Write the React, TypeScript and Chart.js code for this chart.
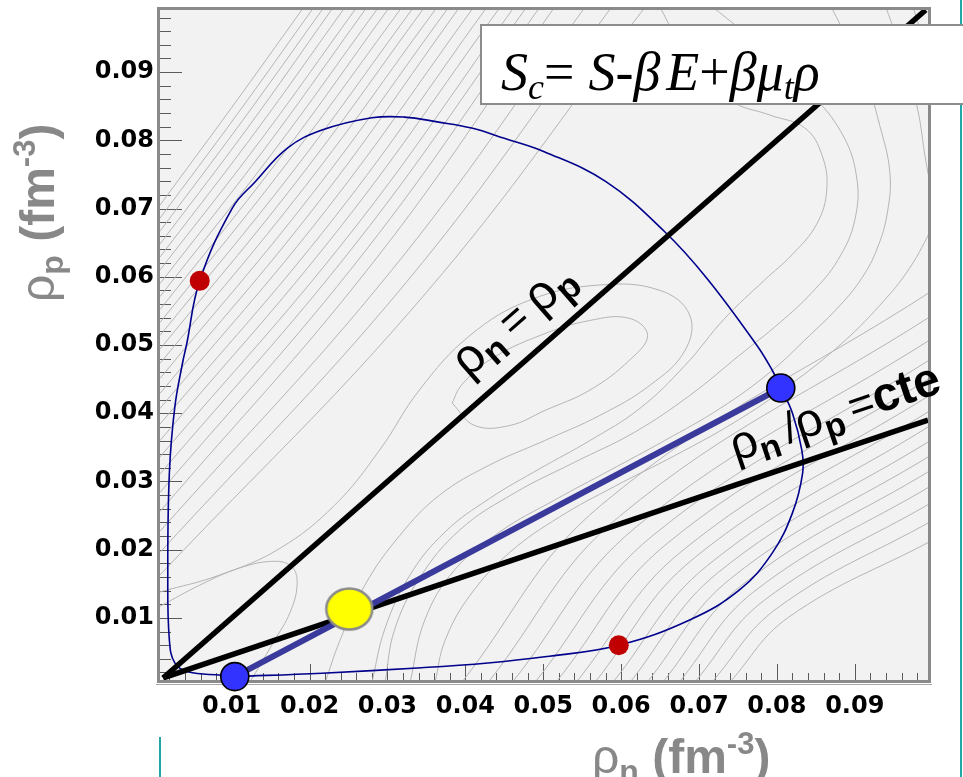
import { useEffect, useRef } from "react";
import { Chart, registerables } from "chart.js";

Chart.register(...registerables);

const W = 963;
const H = 777;

// Axis extents (fm^-3)
const RHO_N_RANGE = [0.0008, 0.0994];
const RHO_P_RANGE = [0.0009, 0.0991];
const MAJOR_TICKS = [0.01, 0.02, 0.03, 0.04, 0.05, 0.06, 0.07, 0.08, 0.09];
const MINOR_STEP = 0.002;

// Spinodal boundary, traced clockwise from the dilute coexistence point
const SPINODAL_RHO_N = [
  0.0104, 0.0216, 0.0344, 0.0429, 0.0502, 0.0597, 0.0688, 0.0752, 0.0794, 0.082,
  0.0833, 0.0832, 0.082, 0.0805, 0.0794, 0.0774, 0.071, 0.0656, 0.0581, 0.0502,
  0.045, 0.0408, 0.0364, 0.0322, 0.028, 0.0216, 0.0172, 0.013, 0.0101, 0.0059,
  0.0042, 0.0037, 0.0027, 0.002, 0.0018, 0.002, 0.0027, 0.0044, 0.0087, 0.0104,
];
const SPINODAL_RHO_P = [
  0.0014, 0.0019, 0.0027, 0.0034, 0.0043, 0.006, 0.0097, 0.0141, 0.0195, 0.0254,
  0.0312, 0.0346, 0.04, 0.0437, 0.0463, 0.05, 0.0598, 0.0666, 0.0739, 0.0783,
  0.0803, 0.0818, 0.0827, 0.0834, 0.0833, 0.0815, 0.0789, 0.0739, 0.0701, 0.0594,
  0.05, 0.0474, 0.0409, 0.0312, 0.0166, 0.0068, 0.0034, 0.0021, 0.0016, 0.0014,
];

// Coexisting phases, inflection points and the mixture point
const COEXIST_RHO_N = [0.0104, 0.0805];
const COEXIST_RHO_P = [0.0014, 0.0437];
const INFLECTION_RHO_N = [0.0059, 0.0597];
const INFLECTION_RHO_P = [0.0594, 0.006];
const MIXTURE_RHO_N = [0.0251];
const MIXTURE_RHO_P = [0.0113];

// Straight guides: rho_n = rho_p and rho_n / rho_p = cte
const SYMMETRIC_RHO = [0.0012, 0.0991];
const RATIO_RHO_N = [0.0012, 0.0994];
const RATIO_RHO_P = [0.0012, 0.039];

type Poly = [number, number][];

// Iso-S_c contours toward the neutron-poor corner (upper left)
const CONTOURS_UPPER_LEFT: Poly[] = [
  [[0.0008, 0.0705], [0.01, 0.0848], [0.019, 0.0991]],
  [[0.0008, 0.0686], [0.0107, 0.0838], [0.0203, 0.0991]],
  [[0.0008, 0.0667], [0.0114, 0.0829], [0.0216, 0.0991]],
  [[0.0008, 0.0648], [0.0121, 0.0819], [0.0228, 0.0991]],
  [[0.0008, 0.0629], [0.0129, 0.081], [0.0243, 0.0991]],
  [[0.0008, 0.061], [0.0137, 0.08], [0.0258, 0.0991]],
  [[0.0008, 0.059], [0.0144, 0.079], [0.0271, 0.0991]],
  [[0.0008, 0.0571], [0.0152, 0.0781], [0.0286, 0.0991]],
  [[0.0008, 0.0552], [0.016, 0.0771], [0.03, 0.0991]],
  [[0.0008, 0.0533], [0.0168, 0.0762], [0.0316, 0.0991]],
  [[0.0008, 0.0514], [0.0177, 0.0752], [0.0331, 0.0991]],
  [[0.0008, 0.0494], [0.0185, 0.0742], [0.0345, 0.0991]],
  [[0.0008, 0.0473], [0.0194, 0.0732], [0.0361, 0.0991]],
  [[0.0008, 0.0451], [0.0203, 0.0721], [0.0376, 0.0991]],
  [[0.0008, 0.0429], [0.0212, 0.071], [0.039, 0.0991]],
  [[0.0008, 0.0407], [0.0222, 0.0699], [0.0408, 0.0991]],
  [[0.0008, 0.0384], [0.0232, 0.0687], [0.0425, 0.0991]],
  [[0.0008, 0.036], [0.0241, 0.0675], [0.0442, 0.0991]],
  [[0.0008, 0.0336], [0.0252, 0.0663], [0.046, 0.0991]],
  [[0.0008, 0.0311], [0.0261, 0.0651], [0.0476, 0.0991]],
  [[0.0008, 0.0284], [0.0271, 0.0637], [0.0493, 0.0991]],
  [[0.0008, 0.0256], [0.0283, 0.0623], [0.0512, 0.0991]],
  [[0.0008, 0.0227], [0.0305, 0.0609], [0.0551, 0.0991]],
  [[0.0008, 0.0196], [0.0325, 0.0593], [0.0585, 0.0991]],
  [[0.0008, 0.0163], [0.035, 0.0577], [0.0628, 0.0991]],
];

// Iso-S_c contours toward the proton-poor corner (lower right)
const CONTOURS_LOWER_RIGHT: Poly[] = [
  [[0.0395, 0.0005], [0.0575, 0.0266], [0.1, 0.058]],
  [[0.0429, 0.0005], [0.0598, 0.0249], [0.1, 0.0544]],
  [[0.046, 0.0005], [0.062, 0.0234], [0.1, 0.051]],
  [[0.0489, 0.0005], [0.0641, 0.0221], [0.1, 0.0481]],
  [[0.0516, 0.0005], [0.066, 0.021], [0.1, 0.0454]],
  [[0.0542, 0.0005], [0.0678, 0.0198], [0.1, 0.0429]],
  [[0.0566, 0.0005], [0.0694, 0.0188], [0.1, 0.0406]],
  [[0.0589, 0.0005], [0.0711, 0.0177], [0.1, 0.0384]],
  [[0.0611, 0.0005], [0.0725, 0.0167], [0.1, 0.0362]],
  [[0.0633, 0.0005], [0.0741, 0.0158], [0.1, 0.034]],
  [[0.0653, 0.0005], [0.0755, 0.0148], [0.1, 0.0318]],
  [[0.0674, 0.0005], [0.077, 0.0138], [0.1, 0.0295]],
  [[0.0694, 0.0005], [0.0784, 0.0126], [0.1, 0.027]],
  [[0.0716, 0.0005], [0.08, 0.0114], [0.1, 0.0243]],
  [[0.0739, 0.0005], [0.0815, 0.0101], [0.1, 0.0214]],
];

// Contours around the two maxima and the saddle between them
const CONTOURS_RIDGE: Poly[] = [
  // dilute maximum in the corner
  [[0.0008, 0.0117], [0.0059, 0.0148], [0.011, 0.0173], [0.0155, 0.0183], [0.0178, 0.0174],
   [0.0184, 0.0148], [0.0175, 0.0108], [0.0155, 0.0067], [0.0134, 0.0026], [0.0123, 0.0005]],
  // dense maximum
  [[0.0383, 0.0415], [0.0412, 0.0382], [0.0457, 0.0382], [0.0502, 0.0404], [0.056, 0.0434],
   [0.0611, 0.0478], [0.0634, 0.0514], [0.0611, 0.0539], [0.056, 0.0536], [0.0496, 0.0514],
   [0.0431, 0.0478], [0.0395, 0.0441], [0.0383, 0.0415]],
  // first level below the saddle
  [[0.0008, 0.0138], [0.0085, 0.0163], [0.0162, 0.0202], [0.0232, 0.0265], [0.029, 0.0346],
   [0.0341, 0.0434], [0.0406, 0.0514], [0.0483, 0.0566], [0.0573, 0.0588], [0.065, 0.058],
   [0.0688, 0.0544], [0.0682, 0.0492], [0.0637, 0.0441], [0.0573, 0.0397], [0.0502, 0.036],
   [0.0431, 0.0324], [0.0367, 0.028], [0.0316, 0.0221], [0.0271, 0.0148], [0.0239, 0.0067],
   [0.022, 0.0005]],
  [[0.065, 0.0995], [0.0688, 0.0917], [0.0739, 0.0859], [0.0791, 0.0837], [0.0836, 0.0818],
   [0.0858, 0.0778], [0.0864, 0.0727], [0.0851, 0.0677], [0.082, 0.0633], [0.0784, 0.0595],
   [0.0733, 0.0539], [0.0682, 0.047], [0.0624, 0.0407], [0.056, 0.036], [0.0496, 0.0319],
   [0.0431, 0.0275], [0.0374, 0.0226], [0.0329, 0.0163], [0.0297, 0.0085], [0.028, 0.0005]],
  [[0.0718, 0.0995], [0.0778, 0.0939], [0.0837, 0.0876], [0.0881, 0.0815], [0.0902, 0.0749],
   [0.09, 0.0683], [0.0878, 0.0624], [0.0845, 0.0577], [0.0804, 0.0533], [0.0752, 0.0485],
   [0.0688, 0.0426], [0.0617, 0.0372], [0.054, 0.0328], [0.0463, 0.0283], [0.0393, 0.0229],
   [0.0341, 0.0158], [0.0309, 0.0082], [0.0297, 0.0005]],
  [[0.087, 0.0995], [0.0911, 0.09], [0.0932, 0.0822], [0.0945, 0.0753], [0.0942, 0.0695],
   [0.0929, 0.0642], [0.0909, 0.0598], [0.0881, 0.0558], [0.0842, 0.0514], [0.0791, 0.046],
   [0.0727, 0.0407], [0.0656, 0.036], [0.0585, 0.0316], [0.0515, 0.0273], [0.0444, 0.0226],
   [0.0386, 0.017], [0.0348, 0.0097], [0.0329, 0.0005]],
  [[0.094, 0.0995], [0.0964, 0.0917], [0.0981, 0.0844], [0.0991, 0.0771], [0.1001, 0.0712]],
  [[0.1001, 0.0675], [0.097, 0.0612], [0.0932, 0.0558], [0.0881, 0.05], [0.0816, 0.0441],
   [0.0746, 0.0387], [0.0669, 0.0338], [0.0592, 0.0293], [0.0521, 0.0248], [0.0457, 0.0196],
   [0.0406, 0.0133], [0.0374, 0.0067], [0.0361, 0.0005]],
  [[0.0975, 0.0995], [0.099, 0.094], [0.1, 0.09]],
];

const CONTOUR_COLOR = "#b5b5b5";
const FRAME_FILL = "#f2f2f2";
const TITLE_GREY = "#888888";

type Run = { t: string; font: string; dy?: number; dx?: number };

function drawRuns(
  ctx: CanvasRenderingContext2D,
  runs: Run[],
  x: number,
  y: number,
  angle: number,
  color: string
) {
  ctx.save();
  ctx.translate(x, y);
  ctx.rotate(angle);
  ctx.fillStyle = color;
  ctx.textAlign = "left";
  ctx.textBaseline = "alphabetic";
  let cx = 0;
  for (const r of runs) {
    ctx.font = r.font;
    cx += r.dx ?? 0;
    ctx.fillText(r.t, cx, r.dy ?? 0);
    cx += ctx.measureText(r.t).width;
  }
  ctx.restore();
}

const SANS = '"Liberation Sans", Arial, sans-serif';
const SERIF = '"Liberation Serif", "Times New Roman", serif';

const decorations = {
  id: "rootDecor",
  beforeDraw(chart: any) {
    const { ctx, chartArea: a } = chart;
    ctx.save();
    ctx.fillStyle = "#ffffff";
    ctx.fillRect(0, 0, W, H);
    ctx.fillStyle = FRAME_FILL;
    ctx.fillRect(a.left, a.top, a.right - a.left, a.bottom - a.top);
    // teal page rules
    ctx.strokeStyle = "#20a7a7";
    ctx.lineWidth = 2;
    ctx.beginPath();
    ctx.moveTo(961, 0);
    ctx.lineTo(961, H);
    ctx.moveTo(160, 737);
    ctx.lineTo(160, H);
    ctx.stroke();
    ctx.restore();
  },
  beforeDatasetsDraw(chart: any) {
    const { ctx, chartArea: a, scales } = chart;
    const xs = scales.x;
    const ys = scales.y;
    ctx.save();
    // frame
    ctx.strokeStyle = "#8a8a8a";
    ctx.lineWidth = 3;
    ctx.strokeRect(a.left - 1.5, a.top - 1.5, a.right - a.left + 3, a.bottom - a.top + 3);
    ctx.strokeStyle = "#a8a8a8";
    ctx.lineWidth = 1;
    ctx.beginPath();
    ctx.moveTo(a.left - 4, a.bottom + 4.5);
    ctx.lineTo(a.right + 4, a.bottom + 4.5);
    ctx.stroke();
    // inward ticks
    ctx.strokeStyle = "#5a5a5a";
    ctx.lineWidth = 1;
    ctx.beginPath();
    for (let v = MINOR_STEP; v < RHO_P_RANGE[1]; v += MINOR_STEP) {
      const major = Math.abs(v * 100 - Math.round(v * 100)) < 1e-6;
      const py = Math.round(ys.getPixelForValue(v)) + 0.5;
      ctx.moveTo(a.left, py);
      ctx.lineTo(a.left + (major ? 22 : 11), py);
    }
    for (let v = MINOR_STEP; v < RHO_N_RANGE[1]; v += MINOR_STEP) {
      const major = Math.abs(v * 100 - Math.round(v * 100)) < 1e-6;
      const px = Math.round(xs.getPixelForValue(v)) + 0.5;
      ctx.moveTo(px, a.bottom);
      ctx.lineTo(px, a.bottom - (major ? 16 : 7));
    }
    ctx.stroke();
    ctx.restore();
  },
  afterDatasetsDraw(chart: any) {
    const { ctx, chartArea: a, scales } = chart;
    const xs = scales.x;
    const ys = scales.y;
    const px = (v: number) => xs.getPixelForValue(v);
    const py = (v: number) => ys.getPixelForValue(v);

    // label along rho_n = rho_p
    {
      const x0 = px(SYMMETRIC_RHO[0]);
      const y0 = py(SYMMETRIC_RHO[0]);
      const x1 = px(SYMMETRIC_RHO[1]);
      const y1 = py(SYMMETRIC_RHO[1]);
      const ang = Math.atan2(y1 - y0, x1 - x0);
      const fx = px(0.0424);
      const fy = py(0.0424);
      const off = 24;
      drawRuns(
        ctx,
        [
          { t: "ρ", font: `50px ${SANS}` },
          { t: "n", font: `bold 36px ${SANS}`, dy: 9 },
          { t: "=", font: `44px ${SANS}`, dx: 10 },
          { t: "ρ", font: `50px ${SANS}`, dx: 10 },
          { t: "p", font: `bold 36px ${SANS}`, dy: 9 },
        ],
        fx + off * Math.sin(ang),
        fy - off * Math.cos(ang),
        ang,
        "#000"
      );
    }

    // label along rho_n / rho_p = cte
    {
      const x0 = px(RATIO_RHO_N[0]);
      const y0 = py(RATIO_RHO_P[0]);
      const x1 = px(RATIO_RHO_N[1]);
      const y1 = py(RATIO_RHO_P[1]);
      const ang = Math.atan2(y1 - y0, x1 - x0);
      const t = (0.0756 - RATIO_RHO_N[0]) / (RATIO_RHO_N[1] - RATIO_RHO_N[0]);
      const fx = x0 + t * (x1 - x0);
      const fy = y0 + t * (y1 - y0);
      const off = 22;
      drawRuns(
        ctx,
        [
          { t: "ρ", font: `48px ${SANS}` },
          { t: "n", font: `bold 34px ${SANS}`, dy: 9 },
          { t: "/", font: `44px ${SANS}`, dx: 8 },
          { t: "ρ", font: `48px ${SANS}` },
          { t: "p", font: `bold 34px ${SANS}`, dy: 9 },
          { t: "=", font: `44px ${SANS}`, dx: 8 },
          { t: "cte", font: `bold 48px ${SANS}` },
        ],
        fx + off * Math.sin(ang),
        fy - off * Math.cos(ang),
        ang,
        "#000"
      );
    }

    // formula pave
    ctx.save();
    ctx.fillStyle = "#ffffff";
    ctx.fillRect(481, 25, 500, 79);
    ctx.strokeStyle = "#8c8c8c";
    ctx.lineWidth = 2;
    ctx.strokeRect(481, 25, 500, 79);
    ctx.restore();
    drawRuns(
      ctx,
      [
        { t: "S", font: `italic 54px ${SERIF}` },
        { t: "c", font: `italic 36px ${SERIF}`, dy: 9 },
        { t: "=", font: `54px ${SERIF}` },
        { t: "S", font: `italic 54px ${SERIF}`, dx: 14 },
        { t: "-", font: `54px ${SERIF}` },
        { t: "β", font: `italic 54px ${SERIF}` },
        { t: "E", font: `italic 54px ${SERIF}`, dx: 6 },
        { t: "+", font: `54px ${SERIF}` },
        { t: "β", font: `italic 54px ${SERIF}` },
        { t: "μ", font: `italic 54px ${SERIF}` },
        { t: "t", font: `italic 36px ${SERIF}`, dy: 9 },
        { t: "ρ", font: `italic 54px ${SERIF}` },
      ],
      501,
      90,
      0,
      "#000"
    );

    // axis titles
    const titleRuns: Run[] = [
      { t: "ρ", font: `48px ${SANS}` },
      { t: "n", font: `bold 32px ${SANS}`, dy: 9 },
      { t: " (fm", font: `bold 48px ${SANS}` },
      { t: "-3", font: `bold 31px ${SANS}`, dy: -19 },
      { t: ")", font: `bold 48px ${SANS}` },
    ];
    drawRuns(ctx, titleRuns, 592, a.bottom + 93, 0, TITLE_GREY);
    const yTitle: Run[] = titleRuns.map((r, i) => (i === 1 ? { ...r, t: "p" } : r));
    drawRuns(ctx, yTitle, 54, 302, -Math.PI / 2, TITLE_GREY);
  },
};

export default function App() {
  const ref = useRef<HTMLCanvasElement | null>(null);

  useEffect(() => {
    const canvas = ref.current;
    if (!canvas) return;

    const ellipse = document.createElement("canvas");
    ellipse.width = 52;
    ellipse.height = 48;
    const g = ellipse.getContext("2d")!;
    g.beginPath();
    g.ellipse(26, 24, 23, 20.5, 0, 0, Math.PI * 2);
    g.fillStyle = "#ffff00";
    g.fill();
    g.lineWidth = 2.5;
    g.strokeStyle = "#8a8a8a";
    g.stroke();

    const toPts = (xs: number[], ys: number[]) => xs.map((x, i) => ({ x, y: ys[i] }));
    const polyToPts = (p: Poly) => p.map(([x, y]) => ({ x, y }));

    const contourSets = [...CONTOURS_UPPER_LEFT, ...CONTOURS_LOWER_RIGHT, ...CONTOURS_RIDGE].map(
      (p) => ({
        data: polyToPts(p),
        showLine: true,
        pointRadius: 0,
        borderColor: CONTOUR_COLOR,
        borderWidth: 1,
        tension: 0.4,
        clip: 0,
        order: 20,
      })
    );

    const datasets: any[] = [
      ...contourSets,
      {
        data: toPts(SPINODAL_RHO_N, SPINODAL_RHO_P),
        showLine: true,
        pointRadius: 0,
        borderColor: "#00008c",
        borderWidth: 1.6,
        tension: 0.4,
        clip: 0,
        order: 15,
      },
      {
        data: toPts(SYMMETRIC_RHO, SYMMETRIC_RHO),
        showLine: true,
        pointRadius: 0,
        borderColor: "#000000",
        borderWidth: 5.5,
        clip: 0,
        order: 10,
      },
      {
        data: toPts(RATIO_RHO_N, RATIO_RHO_P),
        showLine: true,
        pointRadius: 0,
        borderColor: "#000000",
        borderWidth: 5.5,
        clip: 0,
        order: 10,
      },
      {
        data: toPts(COEXIST_RHO_N, COEXIST_RHO_P),
        showLine: true,
        pointRadius: 0,
        borderColor: "#3a3a9c",
        borderWidth: 6,
        clip: 0,
        order: 8,
      },
      {
        data: toPts(INFLECTION_RHO_N, INFLECTION_RHO_P),
        pointRadius: 10,
        pointBackgroundColor: "#c00000",
        pointBorderWidth: 0,
        pointBorderColor: "#c00000",
        clip: false,
        order: 3,
      },
      {
        data: toPts(COEXIST_RHO_N, COEXIST_RHO_P),
        pointRadius: 14,
        pointBackgroundColor: "#3333ff",
        pointBorderColor: "#000000",
        pointBorderWidth: 1.6,
        clip: false,
        order: 2,
      },
      {
        data: toPts(MIXTURE_RHO_N, MIXTURE_RHO_P),
        pointStyle: ellipse,
        pointRadius: 24,
        clip: false,
        order: 1,
      },
    ];

    const tickFont = { family: '"DejaVu Sans", sans-serif', size: 24, weight: "bold" as const };

    const chart = new Chart(canvas, {
      type: "scatter",
      data: { datasets },
      options: {
        animation: false,
        responsive: false,
        maintainAspectRatio: false,
        events: [],
        layout: { autoPadding: false, padding: { top: 10, right: 35, left: 0, bottom: 0 } },
        plugins: { legend: { display: false }, tooltip: { enabled: false } },
        scales: {
          x: {
            type: "linear",
            min: RHO_N_RANGE[0],
            max: RHO_N_RANGE[1],
            grid: { display: false, drawTicks: false },
            border: { display: false },
            ticks: {
              font: tickFont,
              color: "#000",
              padding: 12,
              autoSkip: false,
              maxRotation: 0,
              callback: (v: any) => Number(v).toFixed(2),
            },
            afterBuildTicks: (s: any) => {
              s.ticks = MAJOR_TICKS.map((value) => ({ value }));
            },
            afterFit: (s: any) => {
              s.height = 97;
              s.paddingLeft = 0;
              s.paddingRight = 0;
            },
          },
          y: {
            type: "linear",
            min: RHO_P_RANGE[0],
            max: RHO_P_RANGE[1],
            grid: { display: false, drawTicks: false },
            border: { display: false },
            ticks: {
              font: tickFont,
              color: "#000",
              padding: 6,
              autoSkip: false,
              callback: (v: any) => Number(v).toFixed(2),
            },
            afterBuildTicks: (s: any) => {
              s.ticks = MAJOR_TICKS.map((value) => ({ value }));
            },
            afterFit: (s: any) => {
              s.width = 160;
              s.paddingTop = 0;
              s.paddingBottom = 0;
            },
          },
        },
      },
      plugins: [decorations],
    });

    (document as any).fonts?.ready?.then(() => chart.update());

    return () => chart.destroy();
  }, []);

  return (
    <div style={{ position: "fixed", left: 0, top: 0, width: W, height: H, background: "#fff" }}>
      <canvas ref={ref} width={W} height={H} style={{ display: "block" }} />
    </div>
  );
}
